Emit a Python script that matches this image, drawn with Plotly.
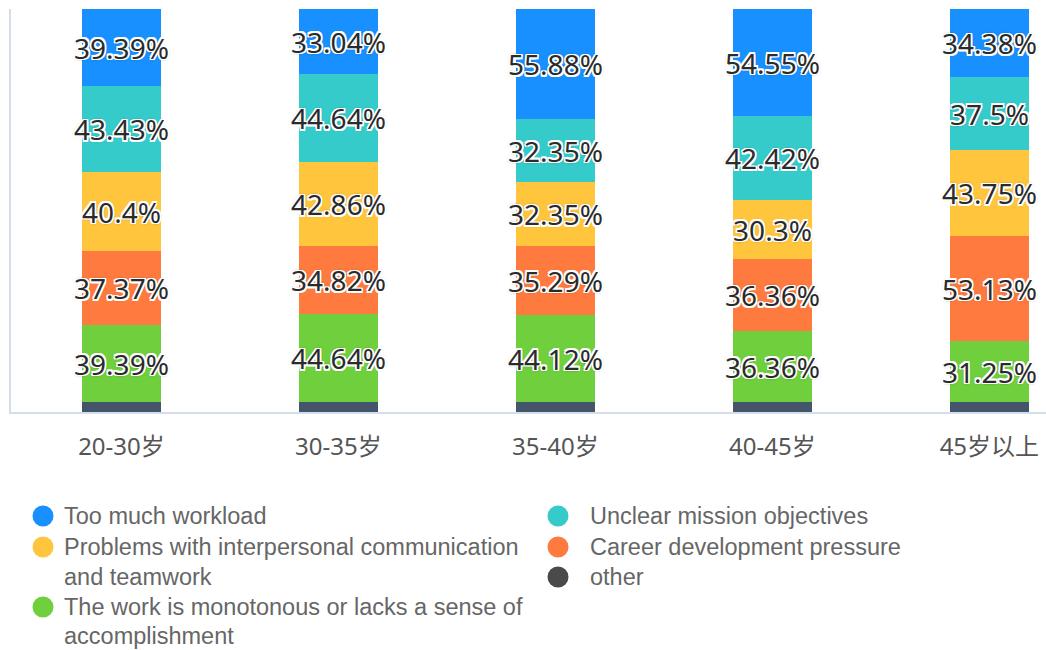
import plotly.graph_objects as go

# Age groups and share (%) of respondents choosing each stress source
categories = ["20-30岁", "30-35岁", "35-40岁", "40-45岁", "45岁以上"]

too_much_workload = [39.39, 33.04, 55.88, 54.55, 34.38]
unclear_objectives = [43.43, 44.64, 32.35, 42.42, 37.5]
communication_problems = [40.4, 42.86, 32.35, 30.3, 43.75]
career_pressure = [37.37, 34.82, 35.29, 36.36, 53.13]
monotonous_work = [39.39, 44.64, 44.12, 36.36, 31.25]
other = [5, 5, 5, 5, 5]

series_names = [
    "other",
    "The work is monotonous or lacks a sense of accomplishment",
    "Career development pressure",
    "Problems with interpersonal communication and teamwork",
    "Unclear mission objectives",
    "Too much workload",
]
series_values = [other, monotonous_work, career_pressure,
                 communication_problems, unclear_objectives, too_much_workload]
series_colors = ["#44546a", "#6fcf3c", "#ff7a3f", "#ffc53d", "#36cbcb", "#1890ff"]
labelled = [False, True, True, True, True, True]

W, H = 1046, 650
ML, MR, MT, MB = 11, 0, 9, 238
PW, PH = W - ML - MR, H - MT - MB

LABEL_FONT = "Noto Sans, Noto Sans CJK SC, sans-serif"
# white halo around the segment labels, with a faint dark rim outside it
halo = [f"{dx}px {dy}px 0 #ffffff" for dx, dy in
        [(-1.5, -1.5), (1.5, -1.5), (-1.5, 1.5), (1.5, 1.5),
         (0, 1.5), (0, -1.5), (1.5, 0), (-1.5, 0)]]
rim = ["0 0 3px rgba(0,0,0,0.55)"]
outline = ", ".join(halo + rim)

fig = go.Figure()
for name, vals, color, lab in zip(series_names, series_values, series_colors, labelled):
    fig.add_trace(go.Bar(
        x=categories,
        y=vals,
        name=name,
        marker=dict(color=color, line=dict(width=0)),
        width=0.364,
        text=[f"{v}%" for v in vals] if lab else None,
        textposition="inside" if lab else "none",
        insidetextanchor="middle",
        constraintext="none",
        textangle=0,
        textfont=dict(family=LABEL_FONT, size=28, color="#2b2b2b", shadow=outline),
        showlegend=False,
    ))

totals = [sum(v) for v in zip(*series_values)]


def px_x(px):
    return (px - ML) / PW


def px_y(py):
    return (H - MB - py) / PH


# Two-column legend with round swatches
legend_font = dict(family="Liberation Sans, Arial, sans-serif", size=23.5, color="#666666")
legend_items = [
    # (circle x, text x, row y list, lines, color)
    (43, 62, [516], ["Too much workload"], "#1890ff"),
    (43, 62, [547, 577], ["Problems with interpersonal communication", "and teamwork"], "#ffc53d"),
    (43, 62, [607, 636], ["The work is monotonous or lacks a sense of", "accomplishment"], "#6fcf3c"),
    (558, 588, [516], ["Unclear mission objectives"], "#36cbcb"),
    (558, 588, [547], ["Career development pressure"], "#ff7a3f"),
    (558, 588, [577], ["other"], "#4a4a4a"),
]
shapes = []
annotations = []
for cx, tx, rows, lines, color in legend_items:
    shapes.append(dict(
        type="circle", xref="paper", yref="paper",
        xsizemode="pixel", ysizemode="pixel",
        xanchor=px_x(cx), yanchor=px_y(rows[0]),
        x0=-10.5, x1=10.5, y0=-10.5, y1=10.5,
        fillcolor=color, line=dict(width=0),
    ))
    for ry, line in zip(rows, lines):
        annotations.append(dict(
            text=line, xref="paper", yref="paper",
            x=px_x(tx), y=px_y(ry), xanchor="left", yanchor="middle",
            showarrow=False, font=legend_font,
        ))

fig.update_layout(
    width=W, height=H,
    barmode="stack",
    bargap=0.0,
    plot_bgcolor="#ffffff",
    paper_bgcolor="#ffffff",
    margin=dict(l=ML, r=MR, t=MT, b=MB, pad=0),
    showlegend=False,
    shapes=shapes,
    annotations=annotations,
    uniformtext=dict(mode=False),
    xaxis=dict(
        type="category",
        range=[-0.509, 4.261],
        showline=True, linecolor="#d3ddec", linewidth=1.5,
        showgrid=False, zeroline=False, ticks="",
        tickfont=dict(family=LABEL_FONT, size=24, color="#555555"),
        ticklabelstandoff=12,
    ),
    yaxis=dict(
        range=[0, max(totals)],
        showline=True, linecolor="#d3ddec", linewidth=1.5,
        showgrid=False, zeroline=False, showticklabels=False, ticks="",
    ),
)

fig.write_html("out.html")
